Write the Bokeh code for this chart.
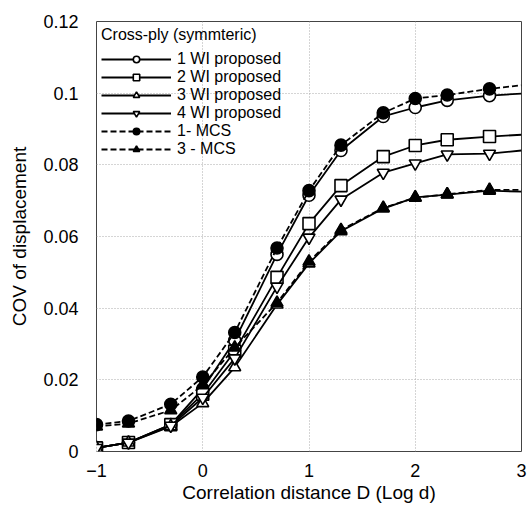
from bokeh.plotting import figure
from bokeh.models import Legend, LegendItem, FixedTicker
from bokeh.embed import file_html
from bokeh.resources import INLINE

# Data (log10 of correlation distance)
x_line = [-1, -0.699, -0.301, 0, 0.301, 0.699, 1, 1.301, 1.699, 2, 2.301, 2.699, 3]
n_marks = 12  # markers at the first 12 points; the last point is where each curve meets the frame

wi1 = [0.001, 0.0025, 0.0075, 0.0175, 0.031, 0.055, 0.0715, 0.084, 0.0935, 0.096, 0.098, 0.0993, 0.0999]
wi2 = [0.001, 0.0025, 0.0075, 0.016, 0.028, 0.0486, 0.0636, 0.0742, 0.0823, 0.0854, 0.087, 0.0879, 0.0884]
wi3 = [0.001, 0.0025, 0.007, 0.0135, 0.0235, 0.041, 0.0525, 0.0615, 0.0678, 0.0709, 0.0717, 0.0728, 0.0725]
wi4 = [0.001, 0.0025, 0.0072, 0.015, 0.026, 0.046, 0.0597, 0.0703, 0.0778, 0.0804, 0.0829, 0.0831, 0.084]
mcs1 = [0.0075, 0.0085, 0.0132, 0.0208, 0.0332, 0.0568, 0.0728, 0.0855, 0.0945, 0.0985, 0.0995, 0.1012, 0.1022]
mcs3 = [0.007, 0.0078, 0.0115, 0.0185, 0.029, 0.0415, 0.053, 0.0618, 0.068, 0.0708, 0.0718, 0.073, 0.073]

labels = ["1 WI proposed", "2 WI proposed", "3 WI proposed", "4 WI proposed", "1- MCS", "3 - MCS"]
values = [wi1, wi2, wi3, wi4, mcs1, mcs3]
markers = ["circle", "square", "triangle", "inverted_triangle", "circle", "triangle"]
filled = [False, False, False, False, True, True]
dashed = [False, False, False, False, True, True]

x_ticks = [-1, 0, 1, 2, 3]
y_ticks = [0, 0.02, 0.04, 0.06, 0.08, 0.1, 0.12]
y_tick_labels = ["0", "0.02", "0.04", "0.06", "0.08", "0.1", "0.12"]

FONT = "Liberation Sans"

p = figure(width=528, height=509, output_backend="svg", toolbar_location=None,
           x_range=(-1, 3), y_range=(0, 0.12),
           min_border_left=96, min_border_right=7, min_border_top=21, min_border_bottom=58)

p.outline_line_color = "#444444"
p.outline_line_width = 1

p.xaxis.ticker = FixedTicker(ticks=x_ticks)
p.yaxis.ticker = FixedTicker(ticks=y_ticks)
p.yaxis.major_label_overrides = {t: l for t, l in zip(y_ticks, y_tick_labels)}

for ax in (p.xaxis[0], p.yaxis[0]):
    ax.axis_line_color = None
    ax.major_tick_line_color = None
    ax.minor_tick_line_color = None
    ax.major_label_text_font = FONT
    ax.major_label_text_font_size = "18px"
    ax.major_label_text_color = "black"
    ax.axis_label_text_font = FONT
    ax.axis_label_text_font_size = "19px"
    ax.axis_label_text_font_style = "normal"
    ax.axis_label_text_color = "black"

p.xaxis.axis_label = "Correlation distance D (Log d)"
p.yaxis.axis_label = "COV of displacement"
p.xaxis.major_label_standoff = 6
p.yaxis.major_label_standoff = 12
p.xaxis.axis_label_standoff = 2
p.yaxis.axis_label_standoff = 10

p.xgrid.grid_line_color = "#aaaaaa"
p.ygrid.grid_line_color = "#aaaaaa"
p.xgrid.grid_line_dash = "1 2"
p.ygrid.grid_line_dash = "1 2"
p.xgrid.grid_line_width = 1
p.ygrid.grid_line_width = 1

items = []
for label, vals, marker, fill, dash in zip(labels, values, markers, filled, dashed):
    lr = p.line(x_line, vals, line_color="black", line_width=1.8,
                line_dash=("6 3" if dash else "solid"))
    sr = p.scatter(x_line[:n_marks], vals[:n_marks], marker=marker, size=12,
                   line_color="black", line_width=1.6,
                   fill_color=("black" if fill else "white"))
    items.append(LegendItem(label=label, renderers=[lr, sr]))

legend = Legend(items=items, location="top_left", title="Cross-ply (symmteric)",
                border_line_color=None, background_fill_alpha=0.0,
                label_text_font=FONT, label_text_font_size="16px", label_text_color="black",
                title_text_font=FONT, title_text_font_size="16px", title_text_color="black",
                title_text_font_style="normal", title_standoff=6,
                glyph_width=70, glyph_height=16, label_height=16,
                spacing=0, padding=6, margin=5, label_standoff=6)
p.add_layout(legend)

open("out.html", "w").write(file_html(p, INLINE))
